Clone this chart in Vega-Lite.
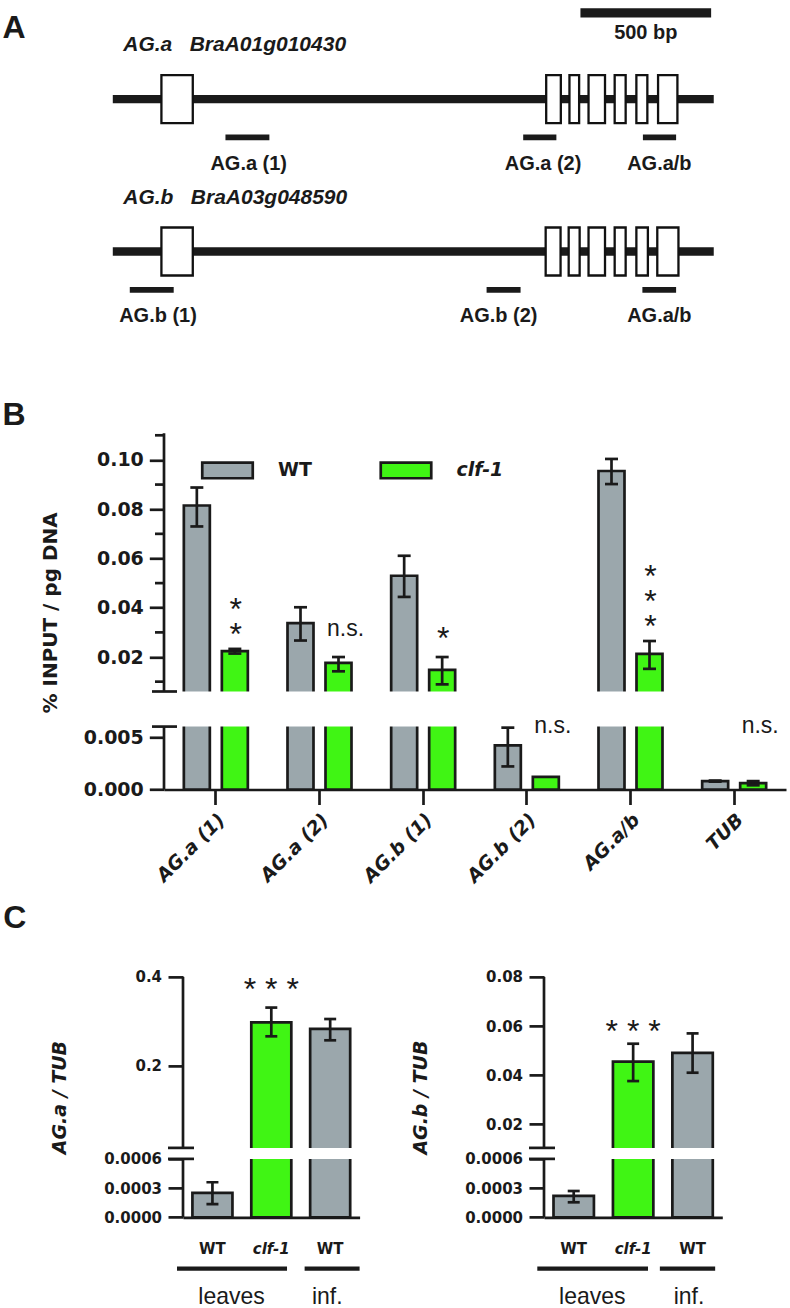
{
  "$schema": "https://vega.github.io/schema/vega-lite/v6.json",
  "padding": {"left": 2, "top": 7.7, "right": 2, "bottom": 1},
  "bounds": "flush",
  "spacing": 186.6,
  "resolve": {"scale": {"fill": "independent"}, "legend": {"fill": "independent"}},
  "config": {
    "view": {"stroke": null},
    "font": "Liberation Sans",
    "axis": {"grid": false, "labelColor": "#1a1a1a", "titleColor": "#1a1a1a", "tickColor": "#1a1a1a", "domainColor": "#1a1a1a", "tickWidth": 2.7, "domainWidth": 2.7, "labelFont": "DejaVu Sans", "labelFontWeight": "bold", "titleFont": "DejaVu Sans", "titleFontWeight": "bold", "labelOverlap": false},
    "text": {"color": "#1a1a1a"},
    "rule": {"color": "#1a1a1a"},
    "tick": {"color": "#1a1a1a", "opacity": 1}
  },
  "datasets": {
    "genes": [
      {"gene": "AG.a", "lane": 1, "start": 0, "end": 2299, "name": "AG.a\u00a0\u00a0\u00a0BraA01g010430", "nameX": 40},
      {"gene": "AG.b", "lane": 2, "start": 0, "end": 2299, "name": "AG.b\u00a0\u00a0\u00a0BraA03g048590", "nameX": 40}
    ],
    "exons": [
      {"lane": 1, "start": 186, "end": 306}, {"lane": 1, "start": 1658, "end": 1714}, {"lane": 1, "start": 1747, "end": 1784},
      {"lane": 1, "start": 1820, "end": 1883}, {"lane": 1, "start": 1920, "end": 1962}, {"lane": 1, "start": 2003, "end": 2045},
      {"lane": 1, "start": 2086, "end": 2160},
      {"lane": 2, "start": 186, "end": 306}, {"lane": 2, "start": 1656, "end": 1713}, {"lane": 2, "start": 1744, "end": 1786},
      {"lane": 2, "start": 1820, "end": 1883}, {"lane": 2, "start": 1920, "end": 1962}, {"lane": 2, "start": 2003, "end": 2047},
      {"lane": 2, "start": 2083, "end": 2164}
    ],
    "primers": [
      {"lane": 1, "name": "AG.a (1)", "start": 431, "end": 599, "labelX": 520},
      {"lane": 1, "name": "AG.a (2)", "start": 1570, "end": 1697, "labelX": 1646},
      {"lane": 1, "name": "AG.a/b", "start": 2028, "end": 2155, "labelX": 2091},
      {"lane": 2, "name": "AG.b (1)", "start": 65, "end": 233, "labelX": 173},
      {"lane": 2, "name": "AG.b (2)", "start": 1430, "end": 1560, "labelX": 1476},
      {"lane": 2, "name": "AG.a/b", "start": 2026, "end": 2155, "labelX": 2091}
    ],
    "scalebar": [{"lane": 0.434, "start": 1789, "end": 2289, "label": "500 bp", "labelX": 2039}],
    "chipB": [
      {"cat": "AG.a (1)", "genotype": "WT", "value": 0.0815, "lo": 0.073, "hi": 0.0888},
      {"cat": "AG.a (1)", "genotype": "clf-1", "value": 0.0224, "lo": 0.0214, "hi": 0.0233},
      {"cat": "AG.a (2)", "genotype": "WT", "value": 0.0338, "lo": 0.0267, "hi": 0.0402},
      {"cat": "AG.a (2)", "genotype": "clf-1", "value": 0.0176, "lo": 0.0142, "hi": 0.02},
      {"cat": "AG.b (1)", "genotype": "WT", "value": 0.053, "lo": 0.0444, "hi": 0.0611},
      {"cat": "AG.b (1)", "genotype": "clf-1", "value": 0.0148, "lo": 0.0089, "hi": 0.02},
      {"cat": "AG.b (2)", "genotype": "WT", "value": 0.0042, "lo": 0.0022, "hi": 0.0059},
      {"cat": "AG.b (2)", "genotype": "clf-1", "value": 0.0012, "lo": null, "hi": null},
      {"cat": "AG.a/b", "genotype": "WT", "value": 0.0955, "lo": 0.0902, "hi": 0.1004},
      {"cat": "AG.a/b", "genotype": "clf-1", "value": 0.0213, "lo": 0.0152, "hi": 0.0265},
      {"cat": "TUB", "genotype": "WT", "value": 0.0008, "lo": 0.00075, "hi": 0.00085},
      {"cat": "TUB", "genotype": "clf-1", "value": 0.0006, "lo": 0.0004, "hi": 0.0008}
    ],
    "sigB": [
      {"cat": "AG.a (1)", "genotype": "clf-1", "label": "*\n*", "y": 0.0425, "kind": "star"},
      {"cat": "AG.b (1)", "genotype": "clf-1", "label": "*", "y": 0.0308, "kind": "star"},
      {"cat": "AG.a/b", "genotype": "clf-1", "label": "*\n*\n*", "y": 0.0559, "kind": "star"},
      {"cat": "AG.a (2)", "genotype": "clf-1", "label": "n.s.", "y": 0.0308, "kind": "ns"},
      {"cat": "AG.b (2)", "genotype": "clf-1", "label": "n.s.", "y": 0.00598, "kind": "ns"},
      {"cat": "TUB", "genotype": "clf-1", "label": "n.s.", "y": 0.00598, "kind": "ns"}
    ],
    "exprA": [
      {"cat": "WT leaves", "genotype": "WT", "value": 0.00025, "lo": 0.000136, "hi": 0.00036},
      {"cat": "clf-1 leaves", "genotype": "clf-1", "value": 0.2976, "lo": 0.266, "hi": 0.3308},
      {"cat": "WT inf.", "genotype": "WT", "value": 0.2827, "lo": 0.257, "hi": 0.305}
    ],
    "exprB": [
      {"cat": "WT leaves", "genotype": "WT", "value": 0.00022, "lo": 0.000154, "hi": 0.00027},
      {"cat": "clf-1 leaves", "genotype": "clf-1", "value": 0.0455, "lo": 0.0376, "hi": 0.0528},
      {"cat": "WT inf.", "genotype": "WT", "value": 0.0491, "lo": 0.041, "hi": 0.057}
    ]
  },
  "vconcat": [
    {
      "title": {"text": "A", "anchor": "start", "frame": "group", "dx": -161.5, "offset": -61.7, "fontSize": 32, "fontWeight": "bold", "font": "Liberation Sans", "baseline": "alphabetic", "color": "#1a1a1a"},
      "width": 622,
      "height": 210.6,
      "layer": [
        {
          "data": {"name": "genes"},
          "mark": {"type": "rule", "strokeWidth": 8.3},
          "encoding": {
            "x": {"field": "start", "type": "quantitative", "scale": {"domain": [195.9, 2575.4], "nice": false, "zero": false}, "axis": null},
            "x2": {"field": "end"},
            "y": {"field": "lane", "type": "quantitative", "scale": {"domain": [0.63, 1.94625], "range": [0, 210.6], "nice": false, "zero": false}, "axis": null}
          }
        },
        {
          "data": {"name": "exons"},
          "mark": {"type": "bar", "orient": "horizontal", "fill": "white", "stroke": "#111111", "strokeWidth": 2.3, "height": 48},
          "encoding": {
            "x": {"field": "start", "type": "quantitative"},
            "x2": {"field": "end"},
            "y": {"field": "lane", "type": "quantitative"}
          }
        },
        {
          "data": {"name": "primers"},
          "mark": {"type": "rule", "strokeWidth": 5.8, "yOffset": 38.3},
          "encoding": {
            "x": {"field": "start", "type": "quantitative"},
            "x2": {"field": "end"},
            "y": {"field": "lane", "type": "quantitative"}
          }
        },
        {
          "data": {"name": "primers"},
          "mark": {"type": "text", "fontSize": 20, "fontWeight": "bold", "align": "center", "baseline": "alphabetic", "dy": 71},
          "encoding": {
            "x": {"field": "labelX", "type": "quantitative"},
            "y": {"field": "lane", "type": "quantitative"},
            "text": {"field": "name"}
          }
        },
        {
          "data": {"name": "genes"},
          "mark": {"type": "text", "fontSize": 21, "fontWeight": "bold", "fontStyle": "italic", "align": "left", "baseline": "alphabetic", "dy": -47.7},
          "encoding": {
            "x": {"field": "nameX", "type": "quantitative"},
            "y": {"field": "lane", "type": "quantitative"},
            "text": {"field": "name"}
          }
        },
        {
          "data": {"name": "scalebar"},
          "mark": {"type": "rule", "strokeWidth": 9.4},
          "encoding": {
            "x": {"field": "start", "type": "quantitative"},
            "x2": {"field": "end"},
            "y": {"field": "lane", "type": "quantitative"}
          }
        },
        {
          "data": {"name": "scalebar"},
          "mark": {"type": "text", "fontSize": 20, "fontWeight": "bold", "align": "center", "baseline": "alphabetic", "dy": 26.6},
          "encoding": {
            "x": {"field": "labelX", "type": "quantitative"},
            "y": {"field": "lane", "type": "quantitative"},
            "text": {"field": "label"}
          }
        }
      ]
    },
    {
      "title": {"text": "B", "anchor": "start", "frame": "group", "dx": -161.5, "offset": -25.2, "fontSize": 32, "fontWeight": "bold", "font": "Liberation Sans", "baseline": "alphabetic", "color": "#1a1a1a"},
      "width": 622,
      "height": 354.2,
      "layer": [
        {
          "data": {"name": "chipB"},
          "mark": {"type": "bar", "stroke": "#1a1a1a", "strokeWidth": 2.7},
          "encoding": {
            "x": {"field": "cat", "type": "nominal", "sort": null,
              "scale": {"domain": ["AG.a (1)", "AG.a (2)", "AG.b (1)", "AG.b (2)", "AG.a/b", "TUB"], "paddingInner": 0, "paddingOuter": 0},
              "axis": {"title": null, "labelAngle": -45, "labelAlign": "right", "labelBaseline": "middle", "labelPadding": 12, "labelOffset": 6, "labelFontSize": 19, "labelFontStyle": "italic", "tickSize": 15}},
            "xOffset": {"field": "genotype", "type": "nominal", "sort": null, "scale": {"domain": ["WT", "clf-1"], "paddingInner": 0.316, "paddingOuter": 0.522}},
            "y": {"field": "value", "type": "quantitative", "stack": null,
              "scale": {"domain": [0, 0.006, 0.00601, 0.11], "range": [354.2, 291.3, 256.2, 0], "zero": false, "nice": false},
              "axis": {"title": "% INPUT / pg DNA", "titleFontSize": 20, "titlePadding": 23, "domain": false,
                "values": [0, 0.005, 0.02, 0.04, 0.06, 0.08, 0.1],
                "labelExpr": "datum.value < 0.01 ? format(datum.value, '.3f') : format(datum.value, '.2f')",
                "tickSize": 14.7, "labelPadding": 6, "labelFontSize": 19}},
            "fill": {"field": "genotype", "type": "nominal", "sort": null,
              "scale": {"domain": ["WT", "clf-1"], "range": ["#9ba7ac", "#40f514"]},
              "legend": {"orient": "none", "legendX": 36.5, "legendY": 7.75, "direction": "horizontal", "columns": 2, "title": null,
                "symbolType": "M-1,-0.31H1V0.31H-1Z", "symbolSize": 2550, "symbolStrokeWidth": 2.7, "symbolStrokeColor": "#1a1a1a",
                "labelFont": "DejaVu Sans", "labelFontWeight": "bold", "labelFontSize": 19, "labelColor": "#1a1a1a", "labelOffset": 23.5,
                "columnPadding": 62.5, "padding": 0, "labelLimit": 0,
                "encode": {"labels": {"update": {"fontStyle": {"signal": "datum.value === 'clf-1' ? 'italic' : 'normal'"}}}}}}
          }
        },
        {
          "data": {"values": [{"gap": 1}]},
          "mark": {"type": "rect", "fill": "white"},
          "encoding": {"y": {"datum": 0.006, "type": "quantitative"}, "y2": {"datum": 0.00601}}
        },
        {
          "data": {"name": "chipB"},
          "mark": {"type": "rule", "strokeWidth": 2.7},
          "encoding": {
            "x": {"field": "cat", "type": "nominal", "sort": null},
            "xOffset": {"field": "genotype", "type": "nominal", "sort": null},
            "y": {"field": "lo", "type": "quantitative"},
            "y2": {"field": "hi"}
          }
        },
        {
          "data": {"name": "chipB"},
          "mark": {"type": "tick", "orient": "horizontal", "size": 13, "thickness": 2.7},
          "encoding": {
            "x": {"field": "cat", "type": "nominal", "sort": null},
            "xOffset": {"field": "genotype", "type": "nominal", "sort": null},
            "y": {"field": "lo", "type": "quantitative"}
          }
        },
        {
          "data": {"name": "chipB"},
          "mark": {"type": "tick", "orient": "horizontal", "size": 13, "thickness": 2.7},
          "encoding": {
            "x": {"field": "cat", "type": "nominal", "sort": null},
            "xOffset": {"field": "genotype", "type": "nominal", "sort": null},
            "y": {"field": "hi", "type": "quantitative"}
          }
        },
        {
          "data": {"values": [{"c": "AG.a (1)", "from": 0, "to": 0.006}, {"c": "AG.a (1)", "from": 0.00601, "to": 0.1108}]},
          "mark": {"type": "rule", "strokeWidth": 2.7},
          "encoding": {
            "x": {"field": "c", "type": "nominal", "bandPosition": 0},
            "x2": {"field": "c", "bandPosition": 0},
            "y": {"field": "from", "type": "quantitative"},
            "y2": {"field": "to"}
          }
        },
        {
          "data": {"values": [{"c": "AG.a (1)", "at": 0.006}, {"c": "AG.a (1)", "at": 0.00601}]},
          "mark": {"type": "rule", "strokeWidth": 2.7, "xOffset": -12, "x2Offset": 13},
          "encoding": {
            "x": {"field": "c", "type": "nominal", "bandPosition": 0},
            "x2": {"field": "c", "bandPosition": 0},
            "y": {"field": "at", "type": "quantitative"}
          }
        },
        {
          "data": {"values": [{"c": "AG.a (1)", "at": 0.01}, {"c": "AG.a (1)", "at": 0.03}, {"c": "AG.a (1)", "at": 0.05}, {"c": "AG.a (1)", "at": 0.07}, {"c": "AG.a (1)", "at": 0.09}, {"c": "AG.a (1)", "at": 0.11}]},
          "mark": {"type": "rule", "strokeWidth": 2.7, "xOffset": -9, "x2Offset": 0},
          "encoding": {
            "x": {"field": "c", "type": "nominal", "bandPosition": 0},
            "x2": {"field": "c", "bandPosition": 0},
            "y": {"field": "at", "type": "quantitative"}
          }
        },
        {
          "data": {"name": "sigB"},
          "transform": [{"filter": "datum.kind == 'star'"}],
          "mark": {"type": "text", "fontSize": 32, "lineBreak": "\n", "lineHeight": 25, "align": "center", "baseline": "alphabetic", "dy": 18.4, "dx": 1},
          "encoding": {
            "x": {"field": "cat", "type": "nominal", "sort": null},
            "xOffset": {"field": "genotype", "type": "nominal", "sort": null},
            "y": {"field": "y", "type": "quantitative"},
            "text": {"field": "label"}
          }
        },
        {
          "data": {"name": "sigB"},
          "transform": [{"filter": "datum.kind == 'ns'"}],
          "mark": {"type": "text", "fontSize": 23, "align": "center", "baseline": "alphabetic", "dy": 6, "dx": 7},
          "encoding": {
            "x": {"field": "cat", "type": "nominal", "sort": null},
            "xOffset": {"field": "genotype", "type": "nominal", "sort": null},
            "y": {"field": "y", "type": "quantitative"},
            "text": {"field": "label"}
          }
        }
      ]
    },
    {
      "bounds": "flush",
      "spacing": 0,
      "resolve": {"scale": {"fill": "independent"}, "legend": {"fill": "independent"}},
      "hconcat": [
        {"width": 18.2, "height": 10, "data": {"values": [{"s": 0}]}, "mark": {"type": "point", "opacity": 0}, "encoding": {}},
        {
          "title": {"text": "C", "anchor": "start", "frame": "group", "dx": -179.7, "offset": 9.6, "fontSize": 32, "fontWeight": "bold", "font": "Liberation Sans", "baseline": "alphabetic", "color": "#1a1a1a"},
          "width": 176.6,
          "height": 240.4,
          "layer": [
            {
              "data": {"name": "exprA"},
              "mark": {"type": "bar", "stroke": "#1a1a1a", "strokeWidth": 2.7, "width": {"band": 0.68}},
              "encoding": {
                "x": {"field": "cat", "type": "nominal", "sort": null,
                  "scale": {"domain": ["WT leaves", "clf-1 leaves", "WT inf."], "paddingInner": 0, "paddingOuter": 0},
                  "axis": {"title": null, "domain": true, "ticks": false, "tickSize": 0, "labelAngle": 0, "labelAlign": "center", "labelBaseline": "alphabetic", "labelPadding": 35.8, "labelFontSize": 15,
                    "labelExpr": "datum.value == 'clf-1 leaves' ? 'clf-1' : 'WT'",
                    "labelFontStyle": {"condition": {"test": "datum.value == 'clf-1 leaves'", "value": "italic"}, "value": "normal"}}},
                "y": {"field": "value", "type": "quantitative", "stack": null,
                  "scale": {"domain": [0, 0.0006, 0.0144, 0.4], "range": [240.4, 182, 171, 0], "zero": false, "nice": false},
                  "axis": {"title": "AG.a / TUB", "titleFontStyle": "italic", "titleFontSize": 19, "titlePadding": 34, "domain": false,
                    "values": [0, 0.0003, 0.0006, 0.2, 0.4],
                    "labelExpr": "datum.value < 0.001 ? format(datum.value, '.4f') : format(datum.value, '.1f')",
                    "tickSize": 15, "labelPadding": 6.5, "labelFontSize": 15}},
                "fill": {"field": "genotype", "type": "nominal", "sort": null, "scale": {"domain": ["WT", "clf-1"], "range": ["#9ba7ac", "#40f514"]}, "legend": null}
              }
            },
            {
              "data": {"values": [{"gap": 1}]},
              "mark": {"type": "rect", "fill": "white"},
              "encoding": {"y": {"datum": 0.0006, "type": "quantitative"}, "y2": {"datum": 0.0144}}
            },
            {
              "data": {"name": "exprA"},
              "mark": {"type": "rule", "strokeWidth": 2.7},
              "encoding": {"x": {"field": "cat", "type": "nominal", "sort": null}, "y": {"field": "lo", "type": "quantitative"}, "y2": {"field": "hi"}}
            },
            {
              "data": {"name": "exprA"},
              "mark": {"type": "tick", "orient": "horizontal", "size": 12, "thickness": 2.7},
              "encoding": {"x": {"field": "cat", "type": "nominal", "sort": null}, "y": {"field": "lo", "type": "quantitative"}}
            },
            {
              "data": {"name": "exprA"},
              "mark": {"type": "tick", "orient": "horizontal", "size": 12, "thickness": 2.7},
              "encoding": {"x": {"field": "cat", "type": "nominal", "sort": null}, "y": {"field": "hi", "type": "quantitative"}}
            },
            {
              "data": {"values": [{"c": "WT leaves", "from": 0, "to": 0.0006}, {"c": "WT leaves", "from": 0.0144, "to": 0.4}]},
              "mark": {"type": "rule", "strokeWidth": 2.7},
              "encoding": {"x": {"field": "c", "type": "nominal", "bandPosition": 0}, "x2": {"field": "c", "bandPosition": 0}, "y": {"field": "from", "type": "quantitative"}, "y2": {"field": "to"}}
            },
            {
              "data": {"values": [{"c": "WT leaves", "at": 0.0006}, {"c": "WT leaves", "at": 0.0144}]},
              "mark": {"type": "rule", "strokeWidth": 2.7, "xOffset": -15, "x2Offset": 11},
              "encoding": {"x": {"field": "c", "type": "nominal", "bandPosition": 0}, "x2": {"field": "c", "bandPosition": 0}, "y": {"field": "at", "type": "quantitative"}}
            },
            {
              "data": {"values": [{"cat": "clf-1 leaves", "label": "* * *", "y": 0.3894}]},
              "mark": {"type": "text", "fontSize": 32, "align": "center", "baseline": "alphabetic", "dy": 18.4},
              "encoding": {"x": {"field": "cat", "type": "nominal", "sort": null}, "y": {"field": "y", "type": "quantitative"}, "text": {"field": "label"}}
            },
            {
              "data": {"values": [{"from": "WT leaves", "to": "clf-1 leaves"}]},
              "mark": {"type": "rule", "strokeWidth": 4.3, "yOffset": 51.3, "xOffset": -6},
              "encoding": {"x": {"field": "from", "type": "nominal", "bandPosition": 0}, "x2": {"field": "to", "bandPosition": 0.767}, "y": {"datum": 0, "type": "quantitative"}}
            },
            {
              "data": {"values": [{"from": "WT inf.", "to": "WT inf."}]},
              "mark": {"type": "rule", "strokeWidth": 4.3, "yOffset": 51.3},
              "encoding": {"x": {"field": "from", "type": "nominal", "bandPosition": 0.066}, "x2": {"field": "to", "bandPosition": 1}, "y": {"datum": 0, "type": "quantitative"}}
            },
            {
              "data": {"values": [{"group": "leaves", "at": "clf-1 leaves"}]},
              "mark": {"type": "text", "fontSize": 23, "align": "center", "baseline": "alphabetic", "dy": 86.3, "dx": -10.3},
              "encoding": {"x": {"field": "at", "type": "nominal", "bandPosition": 0}, "y": {"datum": 0, "type": "quantitative"}, "text": {"field": "group"}}
            },
            {
              "data": {"values": [{"group": "inf.", "at": "WT inf."}]},
              "mark": {"type": "text", "fontSize": 23, "align": "center", "baseline": "alphabetic", "dy": 86.3, "dx": -2.9},
              "encoding": {"x": {"field": "at", "type": "nominal"}, "y": {"datum": 0, "type": "quantitative"}, "text": {"field": "group"}}
            }
          ]
        },
        {"width": 183.4, "height": 10, "data": {"values": [{"s": 0}]}, "mark": {"type": "point", "opacity": 0}, "encoding": {}},
        {
          "width": 178.3,
          "height": 240.4,
          "layer": [
            {
              "data": {"name": "exprB"},
              "mark": {"type": "bar", "stroke": "#1a1a1a", "strokeWidth": 2.7, "width": {"band": 0.68}},
              "encoding": {
                "x": {"field": "cat", "type": "nominal", "sort": null,
                  "scale": {"domain": ["WT leaves", "clf-1 leaves", "WT inf."], "paddingInner": 0, "paddingOuter": 0},
                  "axis": {"title": null, "domain": true, "ticks": false, "tickSize": 0, "labelAngle": 0, "labelAlign": "center", "labelBaseline": "alphabetic", "labelPadding": 35.8, "labelFontSize": 15,
                    "labelExpr": "datum.value == 'clf-1 leaves' ? 'clf-1' : 'WT'",
                    "labelFontStyle": {"condition": {"test": "datum.value == 'clf-1 leaves'", "value": "italic"}, "value": "normal"}}},
                "y": {"field": "value", "type": "quantitative", "stack": null,
                  "scale": {"domain": [0, 0.0006, 0.0104, 0.08], "range": [240.4, 182, 171, 0], "zero": false, "nice": false},
                  "axis": {"title": "AG.b / TUB", "titleFontStyle": "italic", "titleFontSize": 19, "titlePadding": 34, "domain": false,
                    "values": [0, 0.0003, 0.0006, 0.02, 0.04, 0.06, 0.08],
                    "labelExpr": "datum.value < 0.001 ? format(datum.value, '.4f') : format(datum.value, '.2f')",
                    "tickSize": 15, "labelPadding": 6.5, "labelFontSize": 15}},
                "fill": {"field": "genotype", "type": "nominal", "sort": null, "scale": {"domain": ["WT", "clf-1"], "range": ["#9ba7ac", "#40f514"]}, "legend": null}
              }
            },
            {
              "data": {"values": [{"gap": 1}]},
              "mark": {"type": "rect", "fill": "white"},
              "encoding": {"y": {"datum": 0.0006, "type": "quantitative"}, "y2": {"datum": 0.0104}}
            },
            {
              "data": {"name": "exprB"},
              "mark": {"type": "rule", "strokeWidth": 2.7},
              "encoding": {"x": {"field": "cat", "type": "nominal", "sort": null}, "y": {"field": "lo", "type": "quantitative"}, "y2": {"field": "hi"}}
            },
            {
              "data": {"name": "exprB"},
              "mark": {"type": "tick", "orient": "horizontal", "size": 12, "thickness": 2.7},
              "encoding": {"x": {"field": "cat", "type": "nominal", "sort": null}, "y": {"field": "lo", "type": "quantitative"}}
            },
            {
              "data": {"name": "exprB"},
              "mark": {"type": "tick", "orient": "horizontal", "size": 12, "thickness": 2.7},
              "encoding": {"x": {"field": "cat", "type": "nominal", "sort": null}, "y": {"field": "hi", "type": "quantitative"}}
            },
            {
              "data": {"values": [{"c": "WT leaves", "from": 0, "to": 0.0006}, {"c": "WT leaves", "from": 0.0104, "to": 0.08}]},
              "mark": {"type": "rule", "strokeWidth": 2.7},
              "encoding": {"x": {"field": "c", "type": "nominal", "bandPosition": 0}, "x2": {"field": "c", "bandPosition": 0}, "y": {"field": "from", "type": "quantitative"}, "y2": {"field": "to"}}
            },
            {
              "data": {"values": [{"c": "WT leaves", "at": 0.0006}, {"c": "WT leaves", "at": 0.0104}]},
              "mark": {"type": "rule", "strokeWidth": 2.7, "xOffset": -15, "x2Offset": 11},
              "encoding": {"x": {"field": "c", "type": "nominal", "bandPosition": 0}, "x2": {"field": "c", "bandPosition": 0}, "y": {"field": "at", "type": "quantitative"}}
            },
            {
              "data": {"values": [{"cat": "clf-1 leaves", "label": "* * *", "y": 0.061}]},
              "mark": {"type": "text", "fontSize": 32, "align": "center", "baseline": "alphabetic", "dy": 18.4},
              "encoding": {"x": {"field": "cat", "type": "nominal", "sort": null}, "y": {"field": "y", "type": "quantitative"}, "text": {"field": "label"}}
            },
            {
              "data": {"values": [{"from": "WT leaves", "to": "clf-1 leaves"}]},
              "mark": {"type": "rule", "strokeWidth": 4.3, "yOffset": 51.3, "xOffset": -6.7},
              "encoding": {"x": {"field": "from", "type": "nominal", "bandPosition": 0}, "x2": {"field": "to", "bandPosition": 0.75}, "y": {"datum": 0, "type": "quantitative"}}
            },
            {
              "data": {"values": [{"from": "WT inf.", "to": "WT inf."}]},
              "mark": {"type": "rule", "strokeWidth": 4.3, "yOffset": 51.3, "xOffset": -3},
              "encoding": {"x": {"field": "from", "type": "nominal", "bandPosition": 0}, "x2": {"field": "to", "bandPosition": 0.88}, "y": {"datum": 0, "type": "quantitative"}}
            },
            {
              "data": {"values": [{"group": "leaves", "at": "clf-1 leaves"}]},
              "mark": {"type": "text", "fontSize": 23, "align": "center", "baseline": "alphabetic", "dy": 86.3, "dx": -11.1},
              "encoding": {"x": {"field": "at", "type": "nominal", "bandPosition": 0}, "y": {"datum": 0, "type": "quantitative"}, "text": {"field": "group"}}
            },
            {
              "data": {"values": [{"group": "inf.", "at": "WT inf."}]},
              "mark": {"type": "text", "fontSize": 23, "align": "center", "baseline": "alphabetic", "dy": 86.3, "dx": -3.6},
              "encoding": {"x": {"field": "at", "type": "nominal"}, "y": {"datum": 0, "type": "quantitative"}, "text": {"field": "group"}}
            }
          ]
        }
      ]
    }
  ]
}
